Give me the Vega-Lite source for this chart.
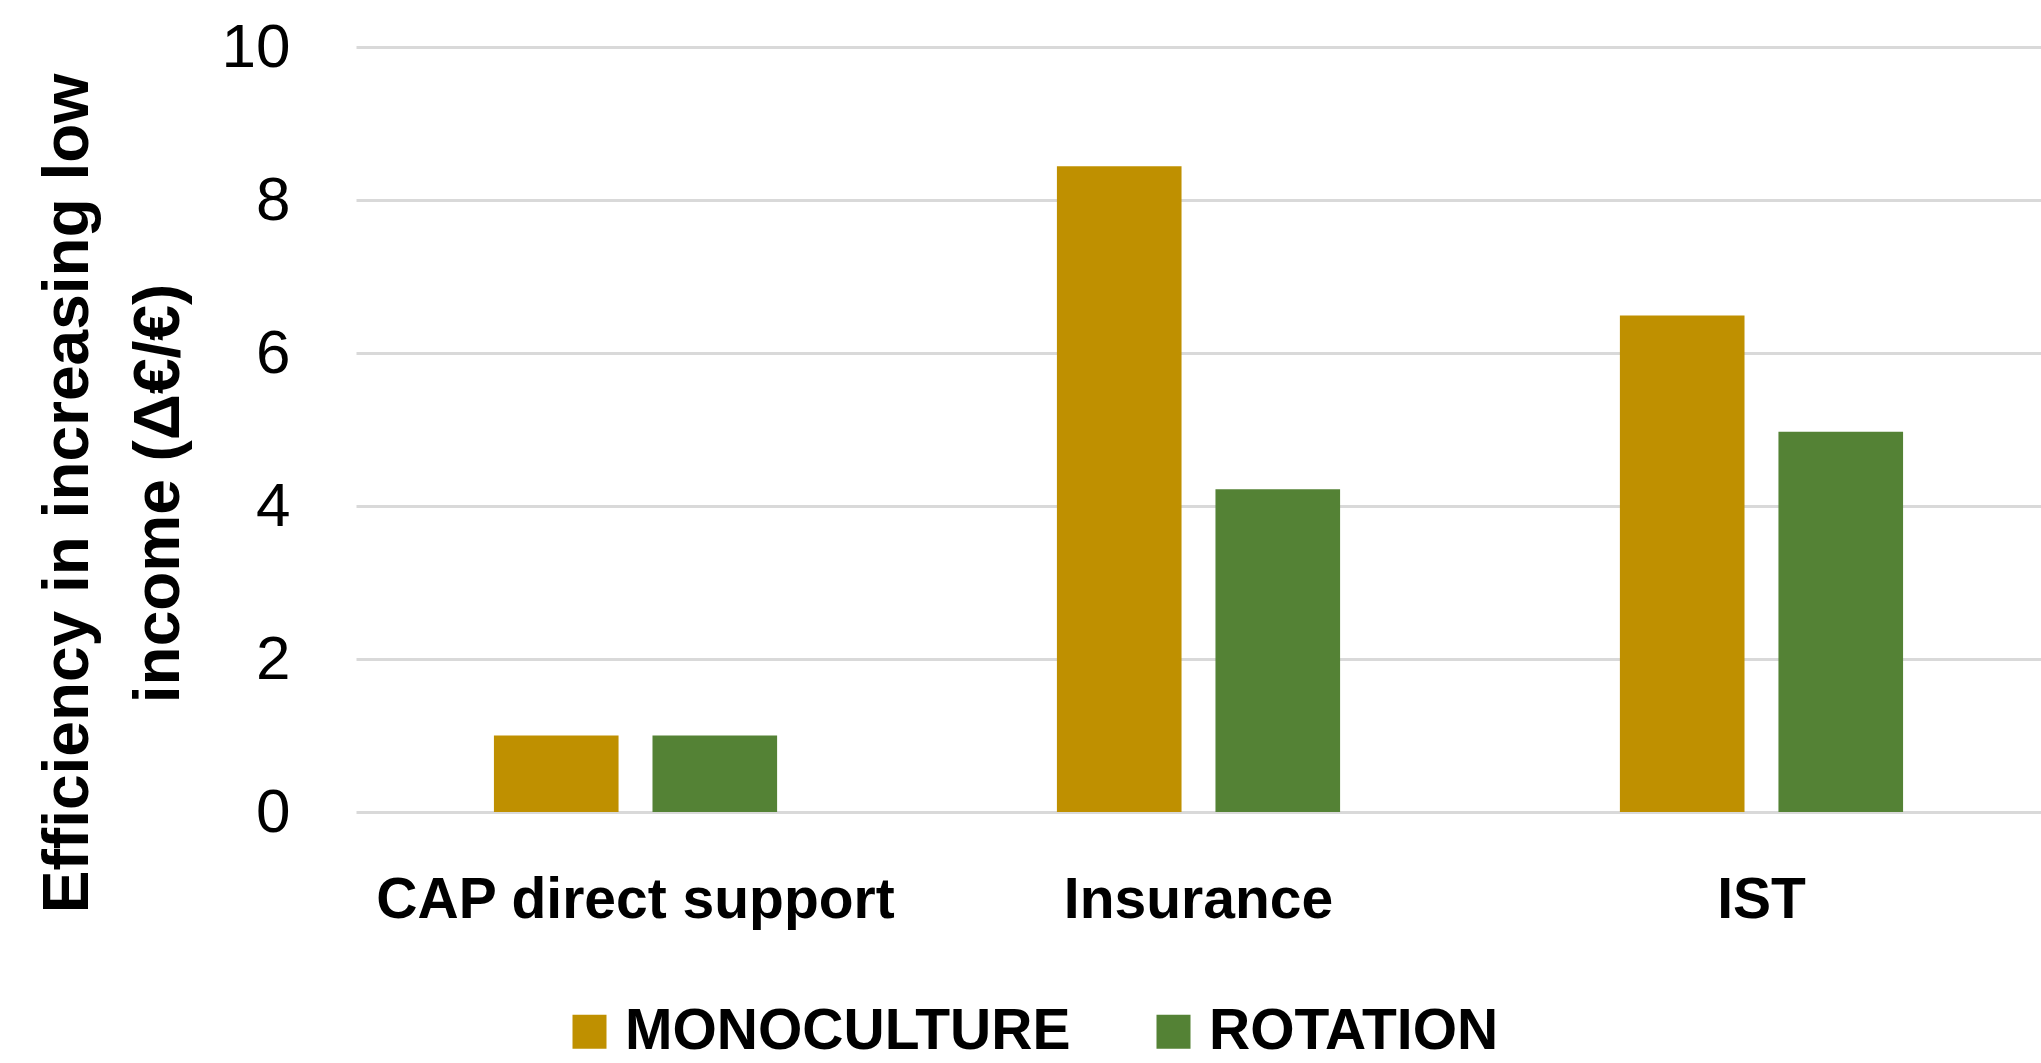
{
  "$schema": "https://vega.github.io/schema/vega-lite/v6.json",
  "autosize": {"type": "none"},
  "padding": {"left": 356, "top": 47, "right": 0, "bottom": 251},
  "width": 1685,
  "height": 765,
  "background": "white",
  "config": {"view": {"stroke": null}},
  "data": {
    "values": [
      {"policy": "CAP direct support", "system": "MONOCULTURE", "value": 1.0},
      {"policy": "CAP direct support", "system": "ROTATION", "value": 1.0},
      {"policy": "Insurance", "system": "MONOCULTURE", "value": 8.44},
      {"policy": "Insurance", "system": "ROTATION", "value": 4.22},
      {"policy": "IST", "system": "MONOCULTURE", "value": 6.49},
      {"policy": "IST", "system": "ROTATION", "value": 4.97}
    ]
  },
  "mark": {"type": "bar", "strokeWidth": 0},
  "encoding": {
    "x": {
      "field": "policy",
      "type": "nominal",
      "sort": ["CAP direct support", "Insurance", "IST"],
      "scale": {"paddingInner": 0.497, "paddingOuter": 0.245},
      "axis": {
        "title": null,
        "labelAngle": 0,
        "labelLimit": 0,
        "ticks": false,
        "tickSize": 0,
        "domain": false,
        "grid": false,
        "labelFont": "Liberation Sans",
        "labelFontWeight": "bold",
        "labelFontSize": 57,
        "labelColor": "#000000",
        "labelBaseline": "alphabetic",
        "labelPadding": 105
      }
    },
    "xOffset": {
      "field": "system",
      "type": "nominal",
      "sort": ["MONOCULTURE", "ROTATION"],
      "scale": {"paddingInner": 0.214, "paddingOuter": 0}
    },
    "y": {
      "field": "value",
      "type": "quantitative",
      "scale": {"domain": [0, 10], "nice": false},
      "axis": {
        "values": [0, 2, 4, 6, 8, 10],
        "title": ["Efficiency in increasing low", "income (Δ€/€)"],
        "titleFont": "Liberation Sans",
        "titleFontWeight": "bold",
        "titleFontSize": 64,
        "titleColor": "#000000",
        "titleLineHeight": 91,
        "titleAngle": -90,
        "titleAlign": "center",
        "titleBaseline": "alphabetic",
        "titleX": -269,
        "titleY": 446,
        "ticks": false,
        "tickSize": 0,
        "domain": false,
        "grid": true,
        "gridColor": "#d9d9d9",
        "gridWidth": 3,
        "labelFont": "Liberation Sans",
        "labelFontSize": 62,
        "labelColor": "#000000",
        "labelPadding": 66,
        "labelBaseline": "middle"
      }
    },
    "color": {
      "field": "system",
      "type": "nominal",
      "scale": {"domain": ["MONOCULTURE", "ROTATION"], "range": ["#BF9000", "#548235"]},
      "legend": {
        "title": null,
        "orient": "none",
        "direction": "horizontal",
        "legendX": 205,
        "legendY": 956,
        "padding": 0,
        "symbolType": "square",
        "symbolSize": 1156,
        "symbolStrokeWidth": 0,
        "labelFont": "Liberation Sans",
        "labelFontWeight": "bold",
        "labelFontSize": 57,
        "labelColor": "#000000",
        "labelOffset": 7,
        "columnPadding": 74,
        "labelLimit": 1000
      }
    }
  }
}
